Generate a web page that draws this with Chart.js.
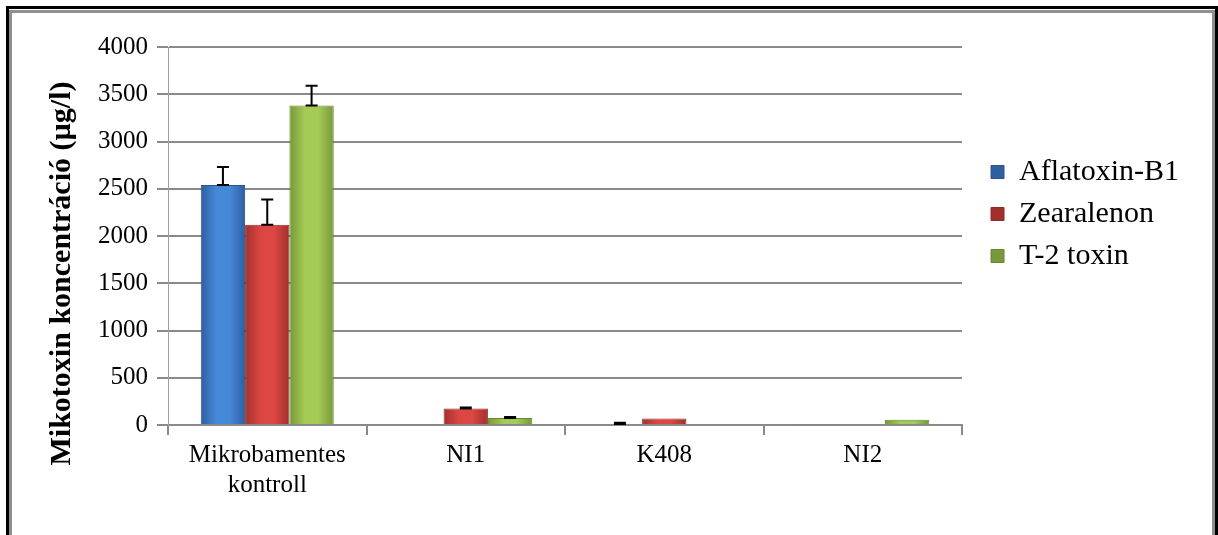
<!DOCTYPE html>
<html>
<head>
<meta charset="utf-8">
<script src="https://cdn.jsdelivr.net/npm/chart.js@4"></script>
<style>
  html, body { margin: 0; padding: 0; background: #fff; }
  body { width: 1218px; height: 535px; position: relative; overflow: hidden; }
  #frame-outer { position: absolute; left: 6px; top: 6px; width: 1206px; height: 560px; border: 3px solid #000; }
  #frame-inner { position: absolute; left: 0px; top: 1px; width: 1200px; height: 560px; border: 3px solid #8f8f8f; }
  #wrap { position: absolute; left: 11px; top: 12px; width: 1201px; height: 523px; }
</style>
</head>
<body>
<div id="frame-outer"><div id="frame-inner"></div></div>
<div id="wrap"><canvas id="chart-mikotoxin" width="1201" height="523"></canvas></div>
<script>
var categories = [['Mikrobamentes', 'kontroll'], 'NI1', 'K408', 'NI2'];
var aflatoxin = [2540, 8, 10, 8];
var zearalenon = [2120, 175, 70, 0];
var t2toxin = [3380, 75, 0, 55];
var aflatoxinErr = [190, 0, 15, 0];
var zearalenonErr = [265, 10, 0, 0];
var t2toxinErr = [210, 10, 0, 0];
var yTicks = [0, 500, 1000, 1500, 2000, 2500, 3000, 3500, 4000];

var errors = [aflatoxinErr, zearalenonErr, t2toxinErr];
var serif = "'Liberation Serif', 'Times New Roman', serif";

// fenyes oszlop szinatmenet
function shade(edge, mid, plain) {
  return function (c) {
    var el = c.element;
    if (!el || el.x == null || isNaN(el.x) || !el.width) return plain;
    var g = c.chart.ctx.createLinearGradient(el.x - el.width / 2, 0, el.x + el.width / 2, 0);
    g.addColorStop(0, edge);
    g.addColorStop(0.35, mid);
    g.addColorStop(0.65, mid);
    g.addColorStop(1, edge);
    return g;
  };
}

// hiba vonalak (error bars)
var errorBars = {
  id: 'errorBars',
  afterDatasetsDraw: function (chart) {
    var ctx = chart.ctx;
    var y = chart.scales.y;
    ctx.save();
    ctx.strokeStyle = '#000';
    ctx.lineWidth = 2;
    chart.data.datasets.forEach(function (ds, i) {
      var meta = chart.getDatasetMeta(i);
      meta.data.forEach(function (bar, j) {
        var err = errors[i][j];
        if (!err) return;
        var top = y.getPixelForValue(ds.data[j] + err);
        ctx.beginPath();
        ctx.moveTo(bar.x, bar.y);
        ctx.lineTo(bar.x, top);
        ctx.moveTo(bar.x - 6, top);
        ctx.lineTo(bar.x + 6, top);
        ctx.moveTo(bar.x - 6, bar.y);
        ctx.lineTo(bar.x + 6, bar.y);
        ctx.stroke();
      });
    });
    ctx.restore();
  }
};

// legend jobbra tolva
var legendShift = {
  id: 'legendShift',
  afterLayout: function (chart) {
    chart.legend.left += 17;
    chart.legend.right += 17;
  }
};

var chartMikotoxin = new Chart(document.getElementById('chart-mikotoxin'), {
  type: 'bar',
  data: {
    labels: categories,
    datasets: [{
      label: 'Aflatoxin-B1',
      data: aflatoxin,
      backgroundColor: shade('#2f5f9f', '#4688d8', '#3d78c6'),
      borderColor: '#2a5590',
      borderWidth: 1
    }, {
      label: 'Zearalenon',
      data: zearalenon,
      backgroundColor: shade('#a22f2c', '#dc4743', '#c83e3b'),
      borderColor: '#8e2b29',
      borderWidth: 1
    }, {
      label: 'T-2 toxin',
      data: t2toxin,
      backgroundColor: shade('#76993a', '#a5cb56', '#94bb45'),
      borderColor: '#67862e',
      borderWidth: 1
    }]
  },
  options: {
    responsive: false,
    animation: false,
    datasets: {
      bar: { categoryPercentage: 0.67, barPercentage: 1 }
    },
    layout: {
      padding: { left: 33, top: 35, right: 40, bottom: 30 }
    },
    plugins: {
      legend: {
        position: 'right',
        align: 'start',
        title: { display: true, text: ' ', font: { size: 10 }, padding: { top: 86, bottom: 0 } },
        labels: {
          boxWidth: 13,
          boxHeight: 13,
          padding: 12,
          textAlign: 'left',
          color: '#000',
          font: { family: serif, size: 30 }
        }
      },
      tooltip: { enabled: false }
    },
    scales: {
      x: {
        grid: { drawOnChartArea: false, tickLength: 10, color: '#8a8a8a', lineWidth: 2 },
        border: { color: '#8a8a8a', width: 2 },
        ticks: { color: '#000', padding: 5, maxRotation: 0, font: { family: serif, size: 25 } }
      },
      y: {
        min: 0,
        max: 4000,
        afterBuildTicks: function (axis) {
          axis.ticks = yTicks.map(function (v) { return { value: v }; });
        },
        grid: { color: '#8a8a8a', lineWidth: 2, tickLength: 11 },
        border: { color: '#a0a0a0', width: 1 },
        ticks: {
          color: '#000',
          padding: 9,
          font: { family: serif, size: 25 },
          callback: function (v) { return String(v); }
        },
        title: {
          display: true,
          // a cim kicsit lejjebb ul, mint a rajzterulet kozepe
          text: 'Mikotoxin koncentráció (µg/l)' + '\u00a0'.repeat(10),
          color: '#000',
          padding: { top: 0, bottom: 9 },
          font: { family: serif, size: 30, weight: 'bold' }
        }
      }
    }
  },
  plugins: [errorBars, legendShift]
});
chartMikotoxin.update();
</script>
</body>
</html>
